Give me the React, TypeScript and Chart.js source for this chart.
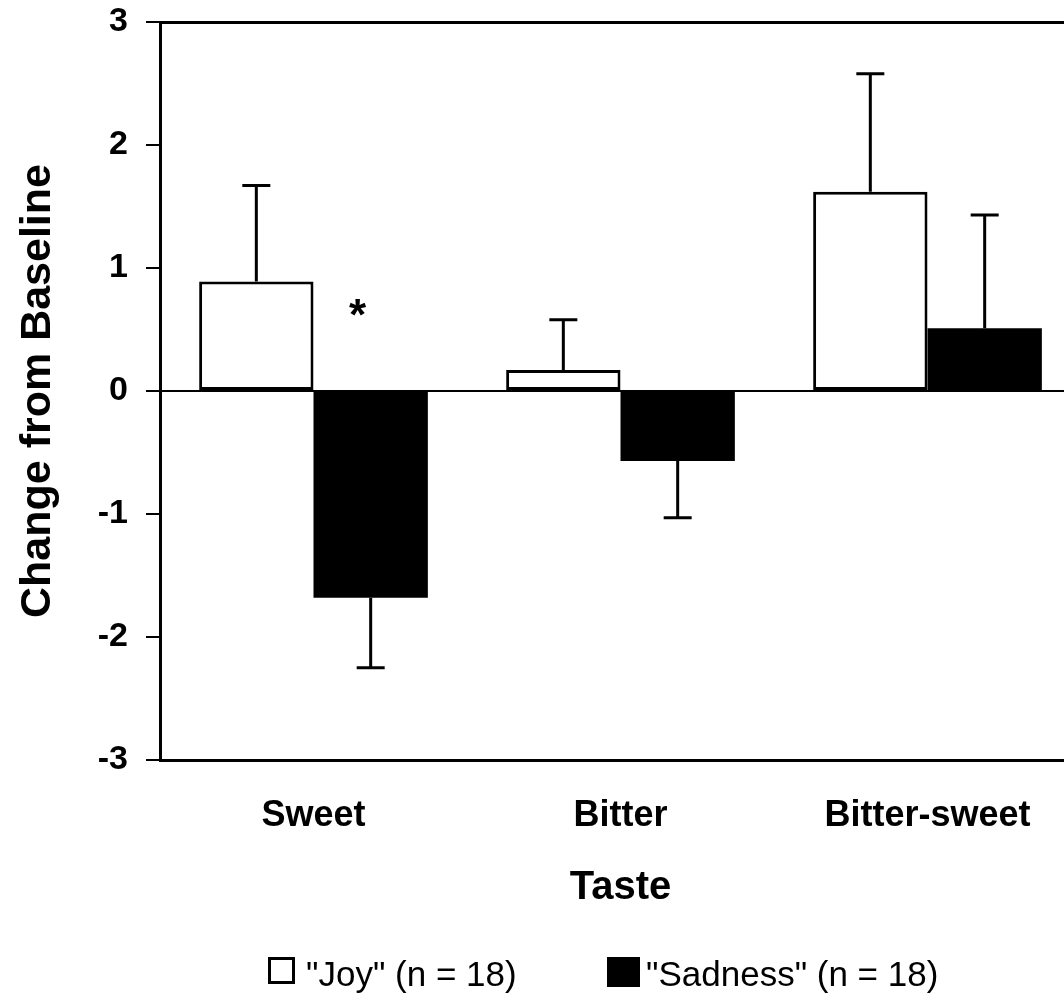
import React, { useEffect, useRef } from 'react';
import { Chart, registerables } from 'chart.js';

Chart.register(...registerables);

// ---------- data ----------
const categories = ['Sweet', 'Bitter', 'Bitter-sweet'];
const seriesLabels = ['"Joy" (n = 18)', '"Sadness" (n = 18)'];
const joyValues = [0.89, 0.17, 1.62];
const joyErrors = [0.78, 0.41, 0.96];
const sadnessValues = [-1.68, -0.57, 0.51];
const sadnessErrors = [0.57, 0.46, 0.92];
const yMin = -3;
const yMax = 3;
const yStep = 1;
const xTitle = 'Taste';
const yTitle = 'Change from Baseline';
// significance marker: category index and value level
const sigCategory = [0];
const sigLevel = [0.7];
const sigText = ['*'];

const FONT = '"Liberation Sans", Arial, Helvetica, sans-serif';

const errorsBySeries = [joyErrors, sadnessErrors];

const errorBarPlugin = {
  id: 'errorBars',
  afterDatasetsDraw(chart: any) {
    const ctx = chart.ctx;
    const ys = chart.scales.y;
    chart.data.datasets.forEach((ds: any, di: number) => {
      const meta = chart.getDatasetMeta(di);
      const errs = errorsBySeries[di];
      meta.data.forEach((bar: any, i: number) => {
        const v = ds.data[i];
        const e = errs[i];
        const end = v >= 0 ? v + e : v - e;
        const x = bar.x;
        const y0 = ys.getPixelForValue(v);
        const y1 = ys.getPixelForValue(end);
        ctx.save();
        ctx.strokeStyle = '#000';
        ctx.lineWidth = 3;
        ctx.beginPath();
        ctx.moveTo(x, y0);
        ctx.lineTo(x, y1);
        ctx.moveTo(x - 14, y1);
        ctx.lineTo(x + 14, y1);
        ctx.stroke();
        ctx.restore();
      });
    });
    // significance markers, placed beside the Sadness bar
    const meta1 = chart.getDatasetMeta(1);
    sigCategory.forEach((ci, k) => {
      const bar: any = meta1.data[ci];
      const x = bar.x - bar.width / 2 + 44;
      const y = ys.getPixelForValue(sigLevel[k]);
      ctx.save();
      ctx.fillStyle = '#000';
      ctx.font = `bold 44px ${FONT}`;
      ctx.textAlign = 'center';
      ctx.textBaseline = 'alphabetic';
      ctx.fillText(sigText[k], x, y + 25);
      ctx.restore();
    });
  },
};

const legendPlugin = {
  id: 'bottomLegend',
  afterDraw(chart: any) {
    const ctx = chart.ctx;
    const boxX = [268, 607];
    const boxW = [27, 33];
    const boxH = [27, 30];
    const textX = [306, 646];
    const boxTop = 957;
    const baseline = 986;
    ctx.save();
    chart.data.datasets.forEach((ds: any, i: number) => {
      if (i === 0) {
        ctx.fillStyle = '#fff';
        ctx.fillRect(boxX[i], boxTop, boxW[i], boxH[i]);
        ctx.strokeStyle = '#000';
        ctx.lineWidth = 3;
        ctx.strokeRect(boxX[i] + 1.5, boxTop + 1.5, boxW[i] - 3, boxH[i] - 3);
      } else {
        ctx.fillStyle = '#000';
        ctx.fillRect(boxX[i], boxTop, boxW[i], boxH[i]);
      }
      ctx.fillStyle = '#000';
      ctx.font = `35px ${FONT}`;
      ctx.textAlign = 'left';
      ctx.textBaseline = 'alphabetic';
      ctx.fillText(ds.label, textX[i], baseline);
    });
    ctx.restore();
  },
};

export default function App() {
  const canvasRef = useRef<HTMLCanvasElement | null>(null);

  useEffect(() => {
    if (!canvasRef.current) return;
    const chart = new Chart(canvasRef.current, {
      type: 'bar',
      data: {
        labels: categories,
        datasets: [
          {
            label: seriesLabels[0],
            data: joyValues,
            backgroundColor: '#ffffff',
            borderColor: '#000000',
            borderWidth: 3,
            borderSkipped: false,
            xAxisID: 'x',
            yAxisID: 'y',
            categoryPercentage: 0.745,
            barPercentage: 1.0,
          },
          {
            label: seriesLabels[1],
            data: sadnessValues,
            backgroundColor: '#000000',
            borderColor: '#000000',
            borderWidth: 0,
            borderSkipped: false,
            xAxisID: 'x',
            yAxisID: 'y',
            categoryPercentage: 0.745,
            barPercentage: 1.0,
          },
        ],
      },
      options: {
        responsive: false,
        animation: false,
        layout: { padding: { top: 22, bottom: 60, left: 0, right: 0 } },
        plugins: {
          legend: { display: false },
          tooltip: { enabled: false },
        },
        scales: {
          x: {
            type: 'category',
            position: 'bottom',
            offset: true,
            grid: { display: false, drawTicks: false },
            border: { display: true, color: '#000', width: 3 },
            ticks: {
              color: '#000',
              padding: 34,
              font: { family: FONT, size: 36, weight: 'bold' },
            },
            title: {
              display: true,
              text: xTitle,
              color: '#000',
              font: { family: FONT, size: 40, weight: 'bold' },
              padding: { top: 0, bottom: 26 },
            },
            afterFit: (scale: any) => {
              scale.height = 178;
              scale.paddingLeft = 0;
              scale.paddingRight = 0;
            },
          },
          x2: {
            type: 'category',
            position: 'top',
            offset: true,
            grid: { display: false, drawTicks: false },
            border: { display: true, color: '#000', width: 3 },
            ticks: { display: false },
            afterFit: (scale: any) => {
              scale.height = 0;
              scale.paddingLeft = 0;
              scale.paddingRight = 0;
            },
          },
          y: {
            type: 'linear',
            min: yMin,
            max: yMax,
            ticks: {
              stepSize: yStep,
              color: '#000',
              padding: 18,
              font: { family: FONT, size: 34, weight: 'bold' },
            },
            grid: {
              display: true,
              drawOnChartArea: true,
              drawTicks: true,
              tickLength: 14,
              tickWidth: 2,
              tickColor: '#000',
              lineWidth: 2,
              color: (ctx: any) =>
                ctx.tick && ctx.tick.value === 0 ? '#000' : 'rgba(0,0,0,0)',
            },
            border: { display: true, color: '#000', width: 3 },
            title: {
              display: true,
              text: yTitle,
              color: '#000',
              font: { family: FONT, size: 43, weight: 'bold' },
              padding: { top: 12, bottom: 0 },
            },
            afterFit: (scale: any) => {
              scale.width = 160;
              scale.paddingTop = 0;
              scale.paddingBottom = 0;
            },
          },
        },
      } as any,
      plugins: [errorBarPlugin, legendPlugin],
    });
    return () => chart.destroy();
  }, []);

  return (
    <div
      style={{
        position: 'absolute',
        left: 0,
        top: 0,
        width: 1064,
        height: 998,
        overflow: 'hidden',
        background: '#fff',
      }}
    >
      <canvas
        ref={canvasRef}
        width={1081}
        height={998}
        style={{ display: 'block', width: 1081, height: 998 }}
      />
    </div>
  );
}
